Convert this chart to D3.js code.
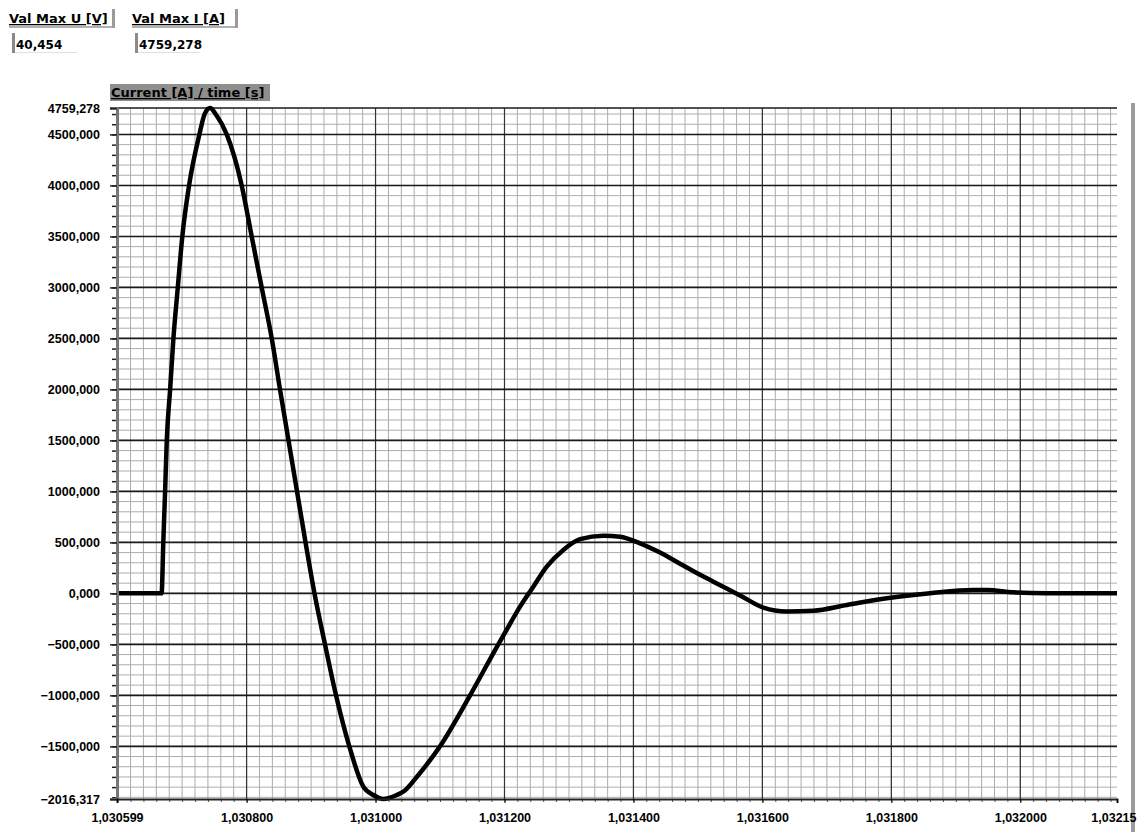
<!DOCTYPE html>
<html>
<head>
<meta charset="utf-8">
<script src="https://cdn.jsdelivr.net/npm/d3@7"></script>
<style>
  body { margin: 0; background: #fff; }
  svg { display: block; font-family: "DejaVu Sans", Verdana, sans-serif; }
</style>
</head>
<body>
<div id="chart"></div>
<script>
// Data
var timeS = [1.030599, 1.0306682, 1.0306708, 1.0306736, 1.0306762, 1.0306814, 1.0306865, 1.0306933,
  1.0307003, 1.0307108, 1.0307268, 1.0307349, 1.0307433, 1.0307530, 1.0307692, 1.0307924, 1.0308079,
  1.0308234, 1.0308390, 1.0308518, 1.0308650, 1.0308782, 1.0308914, 1.0309053, 1.0309216, 1.0309387,
  1.0309593, 1.0309810, 1.0309965, 1.0310121, 1.0310328, 1.0310450, 1.0310639, 1.0311000, 1.0311466, 1.0311904,
  1.0312008, 1.0312241, 1.0312447, 1.0312655, 1.0312913, 1.0313172, 1.0313533, 1.0313792, 1.0314102,
  1.0314413, 1.0314723, 1.0314982, 1.0315239, 1.0315653, 1.0316015, 1.0316378, 1.0316790, 1.0317308,
  1.0317929, 1.0318601, 1.0319272, 1.0319480, 1.0319893, 1.0320411, 1.032150];
var currentA = [0, 0, 500, 1000, 1500, 2000, 2500, 3000,
  3500, 4000, 4500, 4700, 4759.278, 4690, 4500, 4000, 3500,
  3000, 2500, 2000, 1500, 1000, 500, 0, -500, -1000,
  -1500, -1895, -1977, -2016.317, -1977, -1935, -1800, -1500, -1000, -500,
  -385, -130, 66, 262, 426, 531, 566, 556, 491,
  400, 290, 200, 115, -20, -140, -178, -170, -114,
  -48, 1, 33, 33, 11, 2, 2];

var xTicks = [1.030599, 1.0308, 1.031, 1.0312, 1.0314, 1.0316, 1.0318, 1.032, 1.03215];
var xTickLabels = ["1,030599", "1,030800", "1,031000", "1,031200", "1,031400", "1,031600", "1,031800", "1,032000", "1,03215"];
var yTicks = [4759.278, 4500, 4000, 3500, 3000, 2500, 2000, 1500, 1000, 500, 0, -500, -1000, -1500, -2016.317];

var maxU = "40,454", maxI = "4759,278";

//Canvas
var W = 1137, H = 832;
var m = {left: 117, top: 108, right: 20, bottom: 33};
var pw = W - m.left - m.right, ph = H - m.top - m.bottom;

var svg = d3.select("#chart").append("svg").attr("width", W).attr("height", H);

var x = d3.scaleLinear().domain([xTicks[0], xTicks[xTicks.length - 1]]).range([0, pw]);
var y = d3.scaleLinear().domain([yTicks[yTicks.length - 1], yTicks[0]]).range([ph, 0]);

var fmt = function(v) { return d3.format(".3f")(v).replace(".", ","); };

// header fields
function field(px, label, value) {
  var g = svg.append("g").attr("transform", "translate(" + px + ",0)");
  g.append("rect").attr("x", 0).attr("y", 26).attr("width", 104).attr("height", 2).attr("fill", "#b0b0b0");
  g.append("rect").attr("x", 103).attr("y", 9).attr("width", 3).attr("height", 19).attr("fill", "#9a9a9a");
  g.append("text").attr("x", 0).attr("y", 23).text(label)
    .style("font-size", "13px").style("font-weight", "bold").style("text-decoration", "underline");
  g.append("rect").attr("x", 3).attr("y", 33).attr("width", 3).attr("height", 20).attr("fill", "#8a8a8a");
  g.append("rect").attr("x", 6).attr("y", 52).attr("width", 62).attr("height", 1).attr("fill", "#e0e0e0");
  g.append("text").attr("x", 7).attr("y", 49).text(value)
    .style("font-size", "12px").style("font-weight", "bold");
}
field(9, "Val Max U [V]", maxU);
field(132, "Val Max I [A]", maxI);

// title
svg.append("rect").attr("x", 110).attr("y", 84).attr("width", 160).attr("height", 17).attr("fill", "#8e8e8e");
svg.append("text").attr("x", 111).attr("y", 97).text("Current [A] / time [s]")
  .style("font-size", "13px").style("font-weight", "bold").style("text-decoration", "underline");

// right frame bar
svg.append("rect").attr("x", 1131).attr("y", 103).attr("width", 4).attr("height", H - 103).attr("fill", "#9c9c9c");

var plot = svg.append("g").attr("transform", "translate(" + m.left + "," + m.top + ")");

// grid
var xMinor = d3.range(51530, 51608).map(function(k) { return k * 0.00002; });
var xMajor = d3.range(5154, 5161).map(function(k) { return k * 0.0002; });
var yMinor = d3.range(-20, 48).map(function(k) { return k * 100; });
var yMajor = d3.range(-3, 10).map(function(k) { return k * 500; });

plot.selectAll(".vminor").data(xMinor).enter().append("line")
  .attr("x1", d => x(d)).attr("x2", d => x(d)).attr("y1", 0).attr("y2", ph)
  .attr("stroke", "#adadad").attr("stroke-width", 1);
plot.selectAll(".hminor").data(yMinor).enter().append("line")
  .attr("x1", 0).attr("x2", pw).attr("y1", d => y(d)).attr("y2", d => y(d))
  .attr("stroke", "#adadad").attr("stroke-width", 1);
plot.selectAll(".vmajor").data(xMajor).enter().append("line")
  .attr("x1", d => x(d)).attr("x2", d => x(d)).attr("y1", 0).attr("y2", ph)
  .attr("stroke", "#333").attr("stroke-width", 1.2);
plot.selectAll(".hmajor").data(yMajor.concat([yTicks[0]])).enter().append("line")
  .attr("x1", 0).attr("x2", pw).attr("y1", d => y(d)).attr("y2", d => y(d))
  .attr("stroke", "#1a1a1a").attr("stroke-width", 1.6);

// curve
var line = d3.line().x((d, i) => x(timeS[i])).y(d => y(d)).curve(d3.curveMonotoneX);
plot.append("path").datum(currentA).attr("d", line)
  .attr("fill", "none").attr("stroke", "#000").attr("stroke-width", 4.5)
  .attr("stroke-linejoin", "round");

//Axes
var yMinorAxis = d3.axisLeft(y).tickValues(yMinor).tickSize(5).tickFormat("");
plot.append("g").call(yMinorAxis).call(g => g.select(".domain").remove())
  .selectAll("line").attr("stroke", "#222").attr("stroke-width", 1.5);
var yaxis = d3.axisLeft(y).tickValues(yTicks).tickSize(7).tickPadding(10).tickFormat(fmt);
var ya = plot.append("g").call(yaxis);
ya.select(".domain").attr("stroke", "#777").attr("stroke-width", 3);
ya.selectAll("line").attr("stroke", "#222").attr("stroke-width", 1.5);
ya.selectAll("text").style("font-size", "12.5px").style("font-weight", "bold").attr("fill", "#000");

var xMinorAxis = d3.axisBottom(x).tickValues(xMinor).tickSize(3).tickFormat("");
plot.append("g").attr("transform", "translate(0," + ph + ")").call(xMinorAxis)
  .call(g => g.select(".domain").remove())
  .selectAll("line").attr("stroke", "#555");
var xaxis = d3.axisBottom(x).tickValues(xTicks).tickSize(4).tickPadding(10)
  .tickFormat(function(d, i) { return xTickLabels[i]; });
var xa = plot.append("g").attr("transform", "translate(0," + ph + ")").call(xaxis);
xa.select(".domain").attr("stroke", "#222").attr("stroke-width", 2);
xa.selectAll("text").style("font-size", "12.5px").style("font-weight", "bold").attr("fill", "#000");
// last label sits against the right edge
xa.selectAll("text").filter((d, i) => i === xTicks.length - 1)
  .attr("text-anchor", "end").attr("x", W - 1 - m.left - pw);
</script>
</body>
</html>
